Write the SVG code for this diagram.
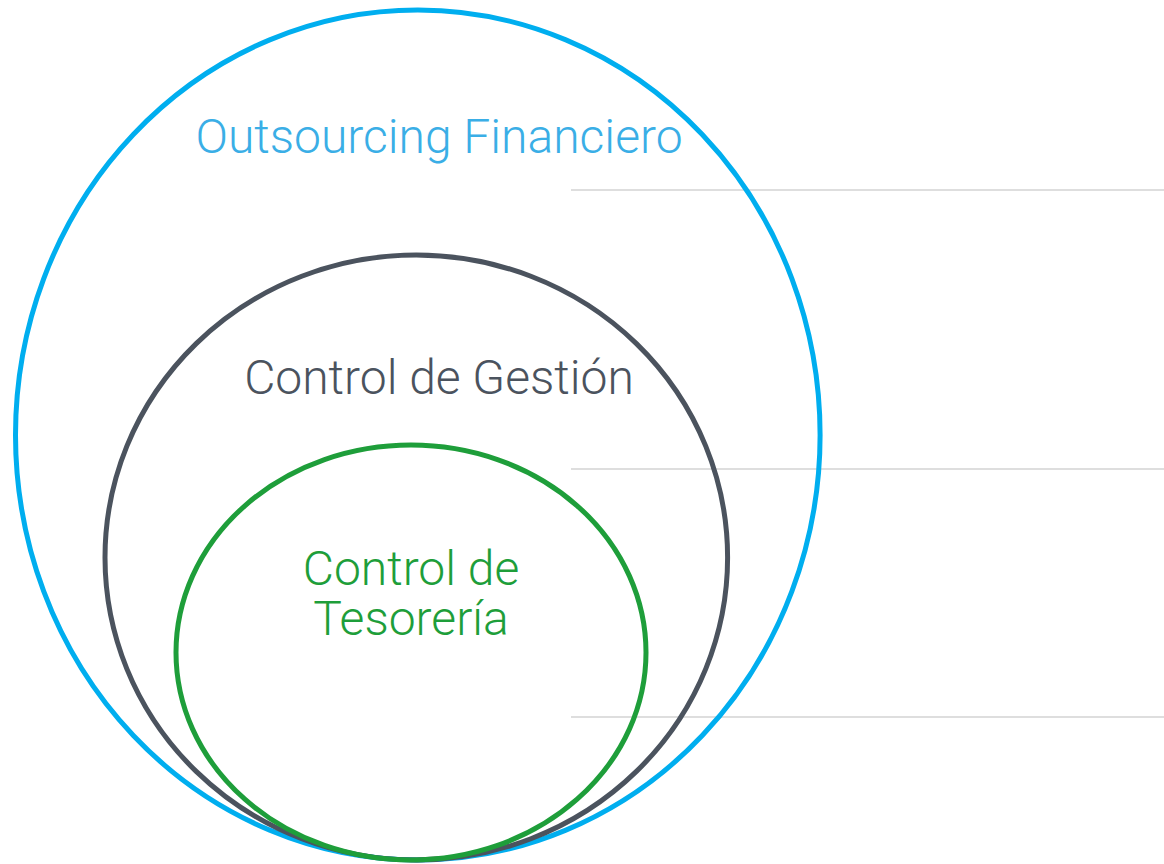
<svg xmlns="http://www.w3.org/2000/svg" width="1164" height="864" viewBox="0 0 1164 864">
  <style>
    .ring { fill: none; stroke-width: 5; }
    .label { font-family: Roboto, "Liberation Sans", sans-serif; font-weight: 300; font-size: 48px; text-anchor: middle; }
    .rule { stroke: #bdbdbd; stroke-width: 1.2; }
  </style>
  <rect width="1164" height="864" fill="#ffffff"/>
  <g id="connectors">
    <line class="rule" x1="571" y1="190" x2="1164" y2="190"/>
    <line class="rule" x1="571" y1="469" x2="1164" y2="469"/>
    <line class="rule" x1="571" y1="717" x2="1164" y2="717"/>
  </g>
  <g id="outsourcing">
    <ellipse class="ring" cx="417.8" cy="435" rx="402.3" ry="425" stroke="#00aeef"/>
    <text class="label" x="439" y="153" fill="#3aaee6">Outsourcing Financiero</text>
  </g>
  <g id="gestion">
    <ellipse class="ring" cx="416.3" cy="557.5" rx="311.3" ry="302.5" stroke="#4b535e"/>
    <text class="label" x="439" y="394" fill="#4b535e">Control de Gestión</text>
  </g>
  <g id="tesoreria">
    <ellipse class="ring" cx="411" cy="652.5" rx="235" ry="207.5" stroke="#1e9e3a"/>
    <text class="label" x="411" y="585" fill="#1e9e3a">Control de</text>
    <text class="label" x="411" y="635" fill="#1e9e3a">Tesorería</text>
  </g>
</svg>
